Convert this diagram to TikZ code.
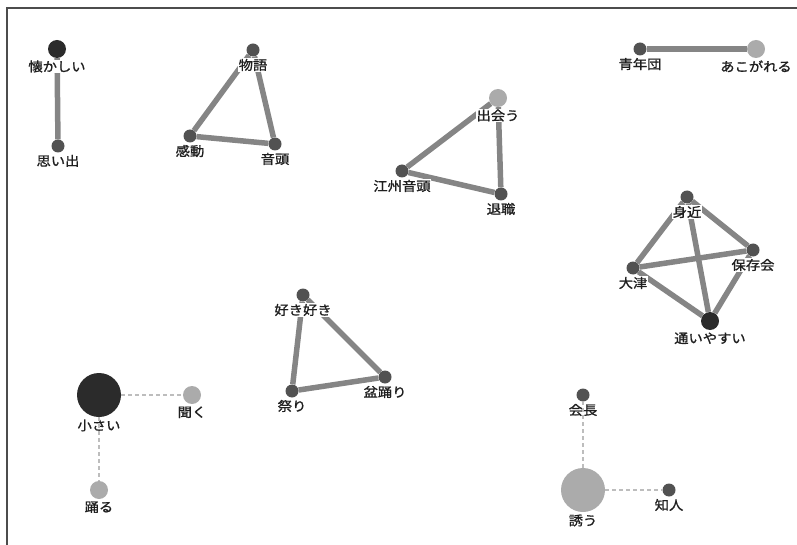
\documentclass[tikz,border=0pt]{standalone}
\usepackage{fontspec}
\newfontfamily\jpfont[FakeStretch=1.1, FakeBold=1.2]{Noto Sans CJK JP}
\usetikzlibrary{backgrounds}

\definecolor{ndark}{HTML}{2B2B2B}
\definecolor{nmid}{HTML}{525252}
\definecolor{nlight}{HTML}{ABABAB}
\definecolor{edgegray}{HTML}{858585}
\definecolor{dashgray}{HTML}{BDBDBD}

\tikzset{
  dot/.style={circle, inner sep=0pt, minimum size=13pt, fill=nmid},
  middot/.style={dot, minimum size=18pt},
  bigdot/.style={dot, minimum size=44pt},
  every label/.style={font=\jpfont\fontsize{13}{13}\selectfont, text=black!88,
    inner sep=0.6pt, fill=white},
  label distance=1.5pt,
  edge/.style={line width=5.5pt, edgegray},
  dashedge/.style={line width=1.5pt, dashgray, dash pattern=on 4pt off 3pt},
}

\begin{document}
\begin{tikzpicture}[x=1pt,y=-1pt]
\useasboundingbox (0,0) rectangle (797,545);
\draw[line width=1.5pt, black!70] (7,545) -- (7,8) -- (797,8);

% pairs
\node[middot, fill=ndark, label=below:懐かしい] (natsukashii) at (57,49) {};
\node[dot, label=below:思い出] (omoide) at (58,146) {};
\node[dot, label=below:青年団] (seinendan) at (640,49) {};
\node[middot, fill=nlight, label=below:あこがれる] (akogareru) at (756,49) {};

% triangles
\node[dot, label=below:物語] (monogatari) at (253,50) {};
\node[dot, label=below:感動] (kandou) at (190,136) {};
\node[dot, label=below:音頭] (ondo) at (275,144) {};
\node[middot, fill=nlight, label=below:出会う] (deau) at (498,98) {};
\node[dot, label=below:江州音頭] (goshu) at (402,171) {};
\node[dot, label=below:退職] (taishoku) at (501,194) {};
\node[dot, label=below:好き好き] (sukizuki) at (303,295) {};
\node[dot, label=below:祭り] (matsuri) at (292,391) {};
\node[dot, label=below:盆踊り] (bonodori) at (385,377) {};

% four together
\node[dot, label=below:身近] (mijika) at (687,197) {};
\node[dot, label=below:保存会] (hozonkai) at (753,250) {};
\node[dot, label=below:大津] (otsu) at (633,268) {};
\node[middot, fill=ndark, label=below:通いやすい] (kayoi) at (710,321) {};

% stars
\node[bigdot, fill=ndark, label=below:小さい] (chiisai) at (99,395) {};
\node[middot, fill=nlight, label=below:聞く] (kiku) at (192,395) {};
\node[middot, fill=nlight, label=below:踊る] (odoru) at (99,490) {};
\node[dot, label=below:会長] (kaicho) at (583,395) {};
\node[bigdot, fill=nlight, label=below:誘う] (sasou) at (583,490) {};
\node[dot, label=below:知人] (chijin) at (669,490) {};

\begin{scope}[on background layer]
\draw[edge] (natsukashii) -- (omoide);
\draw[edge] (seinendan) -- (akogareru);
\draw[edge] (monogatari) -- (kandou) -- (ondo) -- (monogatari);
\draw[edge] (deau) -- (goshu) -- (taishoku) -- (deau);
\draw[edge] (sukizuki) -- (matsuri) -- (bonodori) -- (sukizuki);
\draw[edge] (mijika) -- (otsu) -- (hozonkai) -- (mijika) -- (kayoi);
\draw[edge] (otsu) -- (kayoi) -- (hozonkai);
\end{scope}
\draw[dashedge] (chiisai) -- (kiku);
\draw[dashedge] (chiisai) -- (odoru);
\draw[dashedge] (sasou) -- (kaicho);
\draw[dashedge] (sasou) -- (chijin);
\end{tikzpicture}
\end{document}
